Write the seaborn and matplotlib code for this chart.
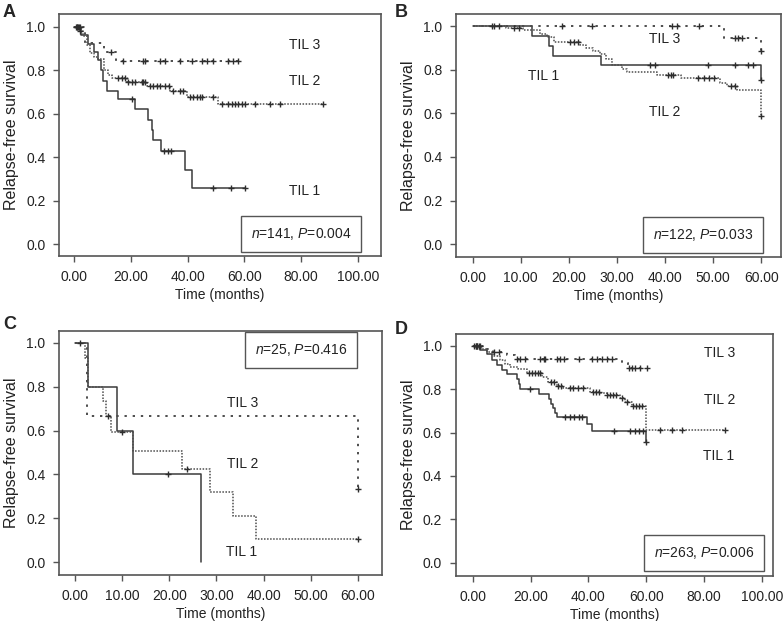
import numpy as np
import pandas as pd
import matplotlib
matplotlib.use("Agg")
import matplotlib.pyplot as plt
import seaborn as sns

# Kaplan-Meier curves.
# per curve: step times, survival after each step, last follow-up, censor times

# A  (n=141, P=0.004)
a1_t = [0, 2.5, 5.0, 7.0, 8.6, 9.5, 10.3, 11.5, 15.6, 21.5, 26.2, 27.6, 27.9, 30.7, 39.1, 41.5]
a1_s = [1.0, 0.96, 0.92, 0.885, 0.845, 0.80, 0.75, 0.705, 0.666, 0.62, 0.571, 0.525, 0.479, 0.43, 0.343, 0.258]
a1_end = 60.3
a1_c = [1.0, 1.8, 20.3, 31.7, 33.0, 34.1, 49.1, 55.2, 60.3]

a2_t = [0, 2.0, 3.3, 4.5, 5.6, 7.0, 8.6, 10.5, 12.1, 13.5, 18.6, 25.6, 33.8, 39.7, 50.9]
a2_s = [1.0, 0.98, 0.955, 0.915, 0.877, 0.86, 0.85, 0.80, 0.778, 0.762, 0.747, 0.727, 0.706, 0.678, 0.643]
a2_end = 87.9
a2_c = [0.8, 1.5, 2.2, 15.6, 16.8, 18.0, 19.1, 20.3, 21.5, 23.9, 24.4, 25.0, 26.8, 27.9, 29.1,
        30.3, 32.1, 33.3, 35.0, 37.4, 38.5, 40.9, 42.0, 43.2, 44.4, 45.0, 49.1, 52.1, 54.4,
        55.6, 56.8, 57.9, 59.1, 60.3, 63.8, 69.1, 72.6, 87.9]

a3_t = [0, 3.8, 10.5, 14.8]
a3_s = [1.0, 0.923, 0.882, 0.842]
a3_end = 57.9
a3_c = [1.0, 2.0, 12.9, 17.4, 24.4, 25.0, 30.3, 32.1, 37.4, 41.5, 45.0, 46.8, 49.1, 54.4, 56.2, 57.9]

# B  (n=122, P=0.033)
b1_t = [0, 12.3, 15.8, 16.7, 26.7, 60.0]
b1_s = [1.0, 0.955, 0.909, 0.864, 0.820, 0.752]
b1_end = 60.0
b1_c = [4.5, 36.9, 37.9, 49.0, 54.5, 57.3, 58.3, 60.0]

b2_t = [0, 7.0, 10.5, 14.0, 15.5, 17.0, 22.3, 23.5, 25.0, 26.5, 27.8, 29.0, 31.0, 32.0,
        38.3, 43.4, 51.4, 52.8, 54.9, 60.0]
b2_s = [1.0, 0.99, 0.98, 0.965, 0.95, 0.928, 0.915, 0.90, 0.885, 0.87, 0.85, 0.82, 0.805, 0.79,
        0.777, 0.762, 0.739, 0.727, 0.708, 0.586]
b2_end = 60.0
b2_c = [8.5, 9.6, 20.3, 21.0, 21.8, 40.7, 41.2, 41.7, 46.9, 48.0, 49.1, 50.1, 53.8, 54.5, 60.0]

b3_t = [0, 52.3, 60.0]
b3_s = [1.0, 0.944, 0.884]
b3_end = 60.0
b3_c = [4.0, 5.4, 18.6, 24.8, 41.4, 42.5, 47.0, 54.5, 55.2, 55.9, 60.0]

# C  (n=25, P=0.416)
c1_t = [0, 2.8, 9.0, 12.4, 26.7]
c1_s = [1.0, 0.8, 0.6, 0.4, 0.0]
c1_end = 26.7
c1_c = [1.0, 19.8]

c2_t = [0, 2.1, 2.8, 6.0, 6.5, 7.6, 12.4, 22.6, 28.6, 33.5, 38.3]
c2_s = [1.0, 0.93, 0.8, 0.733, 0.667, 0.593, 0.508, 0.424, 0.318, 0.212, 0.106]
c2_end = 60.0
c2_c = [7.1, 9.9, 23.8, 60.0]

c3_t = [0, 2.6, 60.0]
c3_s = [1.0, 0.667, 0.333]
c3_end = 60.0
c3_c = [60.0]

# D  (n=263, P=0.006)
d1_t = [0, 2.5, 4.8, 6.6, 8.3, 10.0, 11.8, 15.2, 15.9, 16.5, 22.8, 26.3, 27.0, 27.8, 28.5,
        29.2, 39.5, 41.2, 60.0]
d1_s = [1.0, 0.98, 0.96, 0.934, 0.911, 0.888, 0.868, 0.845, 0.823, 0.80, 0.777, 0.755, 0.733,
        0.711, 0.692, 0.673, 0.64, 0.606, 0.558]
d1_end = 60.0
d1_c = [0.5, 1.5, 19.9, 32.0, 33.7, 34.9, 36.6, 37.8, 48.7, 54.5, 56.2, 57.3, 59.0, 60.0]

d2_t = [0, 3.0, 4.8, 7.1, 9.4, 11.0, 12.9, 15.8, 18.7, 23.8, 26.1, 29.0, 31.3, 40.5, 44.0,
        46.3, 50.9, 52.6, 55.0, 60.0]
d2_s = [1.0, 0.985, 0.972, 0.954, 0.934, 0.918, 0.903, 0.891, 0.873, 0.857, 0.834, 0.816, 0.804,
        0.788, 0.78, 0.773, 0.758, 0.742, 0.724, 0.611]
d2_end = 87.2
d2_c = [1.0, 1.5, 2.5, 19.5, 20.5, 21.5, 22.5, 23.3, 27.0, 28.0, 29.5, 30.5, 33.7, 34.8, 36.5,
        38.2, 41.5, 42.5, 43.5, 46.5, 47.5, 48.5, 49.5, 51.5, 53.4, 55.5, 56.5, 57.5, 58.5,
        64.7, 68.8, 72.2, 87.2]

d3_t = [0, 4.5, 7.0, 11.9, 14.7, 51.6, 53.6]
d3_s = [1.0, 0.985, 0.97, 0.955, 0.939, 0.919, 0.899]
d3_end = 60.2
d3_c = [1.0, 2.0, 7.5, 9.0, 15.3, 16.5, 18.2, 23.4, 24.5, 25.1, 29.1, 30.3, 31.5, 36.6, 41.2,
        43.0, 44.7, 46.4, 48.2, 53.9, 55.1, 56.2, 57.9, 60.2]

notes = ["n=141, P=0.004", "n=122, P=0.033", "n=25, P=0.416", "n=263, P=0.006"]
panel_letters = ["A", "B", "C", "D"]
xticks_long = [0, 20, 40, 60, 80, 100]
xticks_short = [0, 10, 20, 30, 40, 50, 60]
yticks = [0.0, 0.2, 0.4, 0.6, 0.8, 1.0]


def step_path(t, s, end):
    return pd.DataFrame({"time": list(t) + [end], "surv": list(s) + [s[-1]]})


def censor_pts(t, s, c):
    idx = np.searchsorted(np.asarray(t), np.asarray(c), side="right") - 1
    return pd.DataFrame({"time": c, "surv": np.asarray(s)[idx]})


sns.set_style("ticks")
plt.rcParams["font.family"] = ["Liberation Sans", "DejaVu Sans"]
plt.rcParams["mathtext.fontset"] = "custom"
plt.rcParams["mathtext.it"] = "Liberation Sans:italic"
plt.rcParams["mathtext.rm"] = "Liberation Sans"

W, H = 784, 621
fig = plt.figure(figsize=(W / 100, H / 100), dpi=100)

GREY = "#4d4d4d"
styles = {1: dict(linestyle="-", linewidth=1.1, color="#3a3a3a"),
          2: dict(linestyle=(0, (1, 1)), linewidth=1.1, color=GREY),
          3: dict(linestyle=(0, (1.2, 3)), linewidth=1.4, color=GREY)}


def draw(box, xlim, ylim, xticks, curves, labels, note, note_xy, letter, letter_xy):
    l, t, r, b = box
    ax = fig.add_axes([l / W, 1 - b / H, (r - l) / W, (b - t) / H])
    for g, (tt, ss, end, cc) in curves.items():
        sns.lineplot(data=step_path(tt, ss, end), x="time", y="surv", ax=ax,
                     drawstyle="steps-post", estimator=None, sort=False, **styles[g])
        sns.scatterplot(data=censor_pts(tt, ss, cc), x="time", y="surv", ax=ax,
                        marker="+", s=18, linewidth=1.0, color="#2e2e2e", zorder=3)
    for txt, (x, y) in labels.items():
        ax.text(x, y, txt, ha="center", va="center", fontsize=10, color="#222")
    n_part, p_part = note.split(", ")
    ax.text(note_xy[0], note_xy[1],
            "$n$=" + n_part[2:] + ", $P$=" + p_part[2:],
            ha="center", va="center", fontsize=10, color="#222",
            bbox=dict(boxstyle="square,pad=0.7", fc="white", ec="#555", lw=1.0))
    ax.set_xlim(*xlim)
    ax.set_ylim(*ylim)
    ax.set_xticks(xticks)
    ax.set_xticklabels([f"{v:.2f}" for v in xticks])
    ax.set_yticks(yticks)
    ax.set_yticklabels([f"{v:.1f}" for v in yticks])
    ax.tick_params(direction="out", length=4, width=1, color="#555",
                   labelsize=10, labelcolor="#222", pad=6)
    for sp in ax.spines.values():
        sp.set_visible(True)
        sp.set_linewidth(1.2)
        sp.set_color("#555")
    ax.set_xlabel("Time (months)", fontsize=10, color="#222", labelpad=3)
    ax.set_ylabel("Relapse-free survival", fontsize=11.5, color="#222", labelpad=5)
    fig.text(letter_xy[0] / W, 1 - letter_xy[1] / H, letter, fontsize=13,
             fontweight="bold", ha="left", va="top")
    return ax


draw((59.3, 14, 381, 256), (-5.2, 108.2), (-0.054, 1.058), xticks_long,
     {1: (a1_t, a1_s, a1_end, a1_c), 2: (a2_t, a2_s, a2_end, a2_c), 3: (a3_t, a3_s, a3_end, a3_c)},
     {"TIL 3": (81.4, 0.916), "TIL 2": (81.4, 0.75), "TIL 1": (81.1, 0.245)},
     notes[0], (80.0, 0.047), panel_letters[0], (3, 4))

draw((456.3, 14, 780.5, 256.7), (-3.4, 64.0), (-0.057, 1.055), xticks_short,
     {1: (b1_t, b1_s, b1_end, b1_c), 2: (b2_t, b2_s, b2_end, b2_c), 3: (b3_t, b3_s, b3_end, b3_c)},
     {"TIL 3": (40.0, 0.94), "TIL 1": (14.8, 0.771), "TIL 2": (40.0, 0.606)},
     notes[1], (47.9, 0.043), panel_letters[1], (395, 4))

draw((59.3, 330.7, 381.7, 575), (-3.3, 65.0), (-0.058, 1.055), xticks_short,
     {1: (c1_t, c1_s, c1_end, c1_c), 2: (c2_t, c2_s, c2_end, c2_c), 3: (c3_t, c3_s, c3_end, c3_c)},
     {"TIL 3": (35.6, 0.726), "TIL 2": (35.6, 0.448), "TIL 1": (35.4, 0.047)},
     notes[2], (47.9, 0.968), panel_letters[2], (3, 316))

draw((456, 334, 773, 575.7), (-5.8, 103.8), (-0.06, 1.054), xticks_long,
     {1: (d1_t, d1_s, d1_end, d1_c), 2: (d2_t, d2_s, d2_end, d2_c), 3: (d3_t, d3_s, d3_end, d3_c)},
     {"TIL 3": (85.5, 0.966), "TIL 2": (85.5, 0.75), "TIL 1": (85.1, 0.492)},
     notes[3], (79.9, 0.045), panel_letters[3], (395, 321))

fig.savefig("out.png", dpi=100)
